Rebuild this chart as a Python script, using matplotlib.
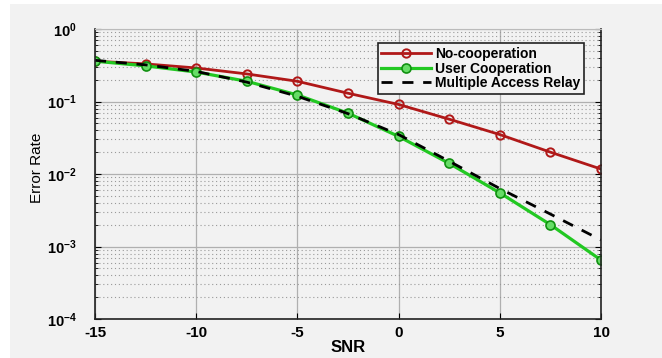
import numpy as np
import matplotlib.pyplot as plt
from matplotlib.patches import Rectangle
from matplotlib.ticker import LogLocator, NullFormatter

# SNR values and error rates
snr = [-15, -12.5, -10, -7.5, -5, -2.5, 0, 2.5, 5, 7.5, 10]
no_coop = [0.36, 0.33, 0.29, 0.24, 0.19, 0.13, 0.091, 0.057, 0.035, 0.020, 0.0117]
user_coop = [0.36, 0.31, 0.255, 0.19, 0.123, 0.069, 0.033, 0.014, 0.0055, 0.0020, 0.00065]
mar = [0.37, 0.32, 0.26, 0.185, 0.118, 0.068, 0.035, 0.015, 0.0063, 0.0028, 0.00123]

bg = "#f2f2f2"
plt.rcParams["font.family"] = ["Liberation Sans", "DejaVu Sans"]
plt.rcParams["axes.unicode_minus"] = False

fig = plt.figure(figsize=(6.62, 3.58), dpi=100, facecolor="white")
fig.patches.append(Rectangle((10 / 662, 0), 1, 1 - 4 / 358, transform=fig.transFigure,
                             facecolor=bg, edgecolor="none", zorder=-10))
ax = fig.add_axes([95 / 662, 1 - 319 / 358, 506 / 662, 290 / 358])
ax.set_facecolor(bg)

ax.semilogy(snr, no_coop, "-o", color="#b01818", lw=2, ms=6, mfc="none", mew=1.4,
            label="No-cooperation")
ax.semilogy(snr, user_coop, "-o", color="#22c822", lw=2.3, ms=6.5, mfc="#66dd66", mec="#109010",
            mew=1.2, label="User Cooperation")
ax.semilogy(snr, mar, "--", color="black", lw=2, dashes=(4, 3.5), label="Multiple Access Relay")

ax.set_xlim(-15, 10)
ax.set_ylim(1e-4, 1)
ax.set_xticks([-15, -10, -5, 0, 5, 10])
ax.yaxis.set_minor_locator(LogLocator(base=10, subs=np.arange(2, 10), numticks=20))
ax.yaxis.set_minor_formatter(NullFormatter())
ax.grid(True, which="major", color="#b0b0b0", lw=0.9, ls="-")
ax.grid(True, which="minor", axis="y", color="#999999", lw=0.8, ls=(0, (1, 2.5)))
ax.tick_params(which="both", direction="in", right=True, top=False)
ax.tick_params(which="major", labelsize=11, length=4)
ax.tick_params(axis="y", which="major", labelsize=10.5, pad=13)
ax.tick_params(axis="x", which="major", pad=5)
ax.tick_params(which="minor", length=2.5)
for lab in ax.get_xticklabels() + ax.get_yticklabels():
    lab.set_fontweight("bold")
for s in ["left", "bottom", "right"]:
    ax.spines[s].set_color("#222222")
    ax.spines[s].set_linewidth(1.2)
ax.spines["top"].set_color("#bbbbbb")

ax.set_xlabel("SNR", fontsize=12, fontweight="bold", va="center")
ax.xaxis.set_label_coords(0.5, -29 / 290)
ax.set_ylabel("Error Rate", fontsize=11, family=["Liberation Sans Narrow", "Liberation Sans"],
              va="center")
ax.yaxis.set_label_coords(-58 / 506, 0.52)

leg = ax.legend(loc="upper right", bbox_to_anchor=(0.972, 0.96), fontsize=10, frameon=True,
                fancybox=False, facecolor=bg, edgecolor="#222222", framealpha=1,
                handlelength=3.6, borderpad=0.25, labelspacing=0.05, handletextpad=0.3,
                borderaxespad=0.2)
leg.get_frame().set_linewidth(1.2)
for t in leg.get_texts():
    t.set_fontweight("bold")

fig.savefig("out.png", dpi=100, facecolor=fig.get_facecolor())
